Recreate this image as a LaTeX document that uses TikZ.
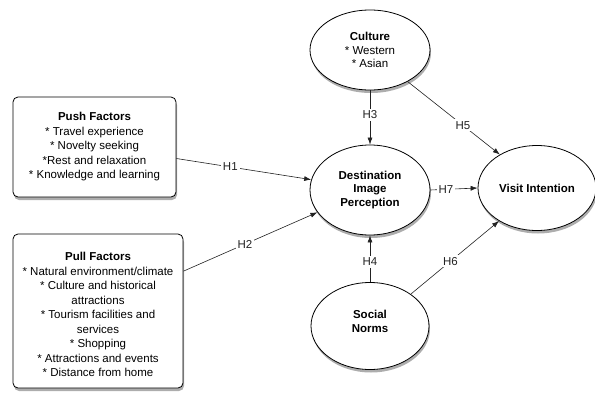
\documentclass[tikz,border=0pt]{standalone}
\usepackage{fontspec}
\setmainfont{Liberation Sans}
\usepackage{xcolor}
\definecolor{TPBline}{HTML}{222222}
\definecolor{TPBshadow}{HTML}{777777}
\usetikzlibrary{arrows.meta, positioning, shapes.geometric, shadows}

\begin{document}
\begin{tikzpicture}[x=1pt, y=-1pt, node distance=140pt,
  construct/.style={draw=black, ellipse, thick, fill=white, inner sep=0pt,
    align=center, font=\fontsize{11.5}{13.8}\selectfont\bfseries,
    drop shadow={shadow xshift=1pt, shadow yshift=-3pt, fill=TPBshadow, opacity=0.6}},
  factor/.style={draw=black, thick, rounded corners=5pt, fill=white, align=center,
    inner sep=3pt, font=\fontsize{11.5}{14.5}\selectfont,
    drop shadow={shadow xshift=1pt, shadow yshift=-3pt, fill=TPBshadow, opacity=0.6}},
  hyp/.style={-{Latex[length=7pt, width=5pt]}, semithick, color=TPBline},
  hlabel/.style={fill=white, inner sep=2pt, font=\fontsize{11.5}{12}\selectfont}]
\useasboundingbox (0,0) rectangle (595,399);

\node[construct, minimum width=120pt, minimum height=90pt] at (370,190) (dest)
  {Destination\\Image\\Perception};

\node[construct, minimum width=120pt, minimum height=80pt, above of=dest] (culture)
  {Culture\\\mdseries * Western\\\mdseries * Asian};

\node[construct, minimum width=118pt, minimum height=87pt, below of=dest,
  yshift=4pt] (social) {Social\\Norms\rule[-10pt]{0pt}{10pt}};

\node[construct, minimum width=118pt, minimum height=85pt, right of=dest,
  xshift=27pt, yshift=2pt] (visit) {Visit Intention};

\node[factor, minimum width=163pt, minimum height=100pt] at (94.5,147) (push)
  {\textbf{Push Factors}\\
   * Travel experience\\
   * Novelty seeking\\
   *Rest and relaxation\\
   * Knowledge and learning};

\node[factor, minimum width=170pt, minimum height=154pt] at (98,311) (pull)
  {\rule{0pt}{16pt}\textbf{Pull Factors}\\
   * Natural environment/climate\\
   * Culture and historical\\
   attractions\\
   * Tourism facilities and\\
   services\\
   * Shopping\\
   * Attractions and events\\
   * Distance from home};

\draw[hyp] (push.-8) -- node[hlabel, pos=0.4]{H1} (dest.170);
\draw[hyp] (pull.25) -- node[hlabel, pos=0.46]{H2} (dest.203);
\draw[hyp] (culture.south) -- node[hlabel, pos=0.45]{H3} (dest.north);
\draw[hyp] (social.north) -- node[hlabel, pos=0.44]{H4} (dest.south);
\draw[hyp] (culture.-40) -- node[hlabel, pos=0.6]{H5} (visit.138);
\draw[hyp] (social.38) -- node[hlabel, pos=0.45]{H6} (visit.221);
\draw[hyp] (dest.east) -- node[hlabel, pos=0.33]{H7} (visit.west);
\end{tikzpicture}
\end{document}
